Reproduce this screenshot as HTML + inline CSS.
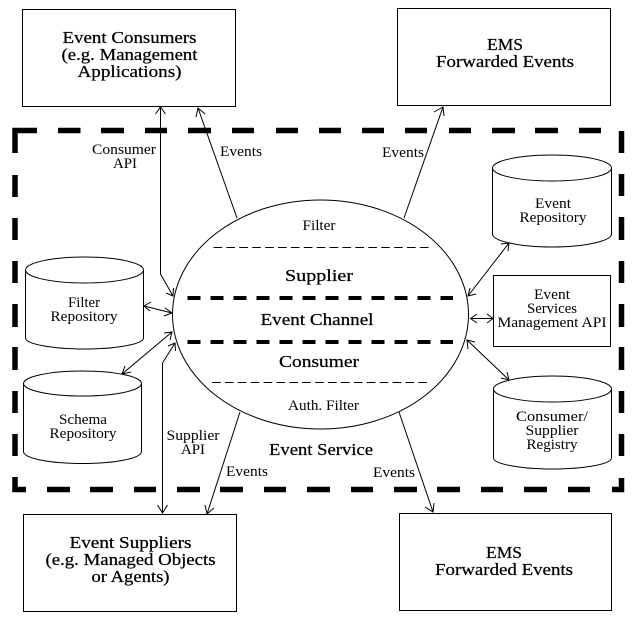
<!DOCTYPE html>
<html><head><meta charset="utf-8"><style>
html,body{margin:0;padding:0;background:#fff;width:632px;height:623px;overflow:hidden}
svg{display:block}
text{font-family:"Liberation Serif",serif;text-anchor:middle;fill:#000}
.b{font-size:17px;stroke:#000;stroke-width:.25px}
.s{font-size:15px;fill:#222}
.l{fill:none;stroke:#000;stroke-width:1}
</style></head><body>
<svg width="632" height="623" viewBox="0 0 632 623" xmlns="http://www.w3.org/2000/svg">
<rect x="0" y="0" width="632" height="623" fill="#fff"/>
<!-- outer dashed border -->
<g stroke="#000" stroke-width="5.5" fill="none">
<path d="M15 153V130.5H37M58 130.5H80.500M101 130.500H124M145 130.5H167M188 130.5H211M232 130.5H254M276 130.500H298M319 130.5H341M362 130.5H384M405 130.5H427M449 130.500H471M492 130.500H515M535 130.500H558M579 130.5H601"/>
<path d="M621.500 131V153M621.500 174V196M621.500 217V240M621.500 261V283M621.500 304V327M621.500 347V370M621.500 391V413M621.500 434V456M621.500 478V489.500H612"/>
<path d="M15 175V197M15 218V240M15 261V283M15 304V327M15 347V370M15 391V413M15 434V456M15 477V489.5H26M47 489.500H70M90 489.500H113M134 489.500H156M177 489.500H200M220 489.500H243M264 489.500H286M307 489.500H330M351 489.500H373M394 489.500H417M437 489.500H460M481 489.500H503M524 489.500H547M568 489.500H590"/>
</g>
<!-- boxes -->
<g class="l">
<rect x="22.500" y="9.500" width="213" height="97"/>
<rect x="397.500" y="8.500" width="213" height="97"/>
<rect x="23.500" y="514.500" width="213" height="97"/>
<rect x="399.500" y="513.500" width="212" height="97"/>
<rect x="493.500" y="275.500" width="117" height="71"/>
<ellipse cx="320.500" cy="314.500" rx="148" ry="114.500"/>
<!-- cylinders -->
<path d="M492.500 168a59.500 13 0 0 1 119 0a59.500 13 0 0 1-119 0v66c0 7 27 13 59.500 13s59.500-6 59.500-13V168"/>
<path d="M25.500 270a59 13 0 0 1 118 0a59 13 0 0 1-118 0v68c0 6 27 11 59 11s59-5 59-11V270"/>
<path d="M23.500 383.500a59 12.500 0 0 1 118 0a59 12.500 0 0 1-118 0v68c0 7 27 12 59 12s59-5 59-12V383.500"/>
<path d="M493.500 389a59 13 0 0 1 118 0a59 13 0 0 1-118 0v69c0 6 27 11 59 11s59-5 59-11V389"/>
<!-- connectors -->
<path d="M160.500 107V274L173 296M155.500 114L160.500 107L165.500 114M166 293L173 296L173.500 288"/>
<path d="M237 218L198 108M196 117L198 108L205 114"/>
<path d="M404 218L443 107M434 112L443 107L444 116"/>
<path d="M162.500 513V363L175 343M157.500 505L162.500 513L167.500 505M168 346L175 343L175.500 351"/>
<path d="M240 412L207 514M205 505L207 514L214 508"/>
<path d="M399 412L433 512M425 507L433 512L434 503"/>
<path d="M144 306L172 313M151 302L144 306L150 311M165 308L172 313L164 316"/>
<path d="M122 374L172 332M131 372L122 374L125 366M164 333L172 332L170 340"/>
<path d="M509 243L468 296M501 244L509 243L508 251M470 288L468 296L476 294"/>
<path d="M470.500 318.500H493M477 314L470.500 318.500L477 323M487 314L493 318.500L487 323"/>
<path d="M467 340L509 380M468 349L467 340L475 342M507 372L509 380L501 378"/>
<!-- thin dashes -->
<path d="M213.500 247.500H429" stroke-dasharray="8.600 4.300"/>
<path d="M212 382.500H428" stroke-dasharray="8.600 4.300"/>
</g>
<!-- thick inner dashes -->
<g stroke="#000" stroke-width="4" fill="none">
<path d="M187.500 298H453" stroke-dasharray="13 10"/>
<path d="M187.500 342H453" stroke-dasharray="13 10"/>
</g>
<!-- box labels -->
<g class="b">
<text x="129.500" y="43" textLength="134" lengthAdjust="spacingAndGlyphs">Event Consumers</text>
<text x="129.500" y="60" textLength="136" lengthAdjust="spacingAndGlyphs">(e.g. Management</text>
<text x="129.500" y="77" textLength="104" lengthAdjust="spacingAndGlyphs">Applications)</text>
<text x="505" y="50" textLength="36" lengthAdjust="spacingAndGlyphs">EMS</text>
<text x="505" y="67" textLength="138" lengthAdjust="spacingAndGlyphs">Forwarded Events</text>
<text x="130.500" y="548" textLength="122" lengthAdjust="spacingAndGlyphs">Event Suppliers</text>
<text x="130.500" y="565" textLength="170" lengthAdjust="spacingAndGlyphs">(e.g. Managed Objects</text>
<text x="130.500" y="582" textLength="78" lengthAdjust="spacingAndGlyphs">or Agents)</text>
<text x="504" y="558" textLength="36" lengthAdjust="spacingAndGlyphs">EMS</text>
<text x="504" y="575" textLength="138" lengthAdjust="spacingAndGlyphs">Forwarded Events</text>
<text x="319" y="281" textLength="68" lengthAdjust="spacingAndGlyphs">Supplier</text>
<text x="317" y="325" textLength="113" lengthAdjust="spacingAndGlyphs">Event Channel</text>
<text x="319" y="367" textLength="80" lengthAdjust="spacingAndGlyphs">Consumer</text>
<text x="321" y="455" textLength="104" lengthAdjust="spacingAndGlyphs">Event Service</text>
</g>
<!-- small labels -->
<g class="s">
<text x="319" y="230" textLength="33" lengthAdjust="spacingAndGlyphs">Filter</text>
<text x="323.500" y="410" textLength="71" lengthAdjust="spacingAndGlyphs">Auth. Filter</text>
<text x="124" y="154" textLength="64" lengthAdjust="spacingAndGlyphs">Consumer</text>
<text x="125" y="168" textLength="24" lengthAdjust="spacingAndGlyphs">API</text>
<text x="241" y="156" textLength="42" lengthAdjust="spacingAndGlyphs">Events</text>
<text x="403" y="157" textLength="42" lengthAdjust="spacingAndGlyphs">Events</text>
<text x="247" y="476" textLength="42" lengthAdjust="spacingAndGlyphs">Events</text>
<text x="394" y="477" textLength="42" lengthAdjust="spacingAndGlyphs">Events</text>
<text x="193" y="440" textLength="53" lengthAdjust="spacingAndGlyphs">Supplier</text>
<text x="193" y="454" textLength="24" lengthAdjust="spacingAndGlyphs">API</text>
<text x="84" y="307" textLength="32" lengthAdjust="spacingAndGlyphs">Filter</text>
<text x="84" y="321" textLength="67" lengthAdjust="spacingAndGlyphs">Repository</text>
<text x="83" y="424" textLength="48" lengthAdjust="spacingAndGlyphs">Schema</text>
<text x="83" y="438" textLength="67" lengthAdjust="spacingAndGlyphs">Repository</text>
<text x="553" y="208" textLength="36" lengthAdjust="spacingAndGlyphs">Event</text>
<text x="553" y="222" textLength="67" lengthAdjust="spacingAndGlyphs">Repository</text>
<text x="552" y="299" textLength="36" lengthAdjust="spacingAndGlyphs">Event</text>
<text x="552" y="313" textLength="50" lengthAdjust="spacingAndGlyphs">Services</text>
<text x="552" y="327" textLength="109" lengthAdjust="spacingAndGlyphs">Management API</text>
<text x="552" y="421" textLength="72" lengthAdjust="spacingAndGlyphs">Consumer/</text>
<text x="552" y="435" textLength="53" lengthAdjust="spacingAndGlyphs">Supplier</text>
<text x="552" y="449" textLength="51" lengthAdjust="spacingAndGlyphs">Registry</text>
</g>
</svg>
</body></html>
